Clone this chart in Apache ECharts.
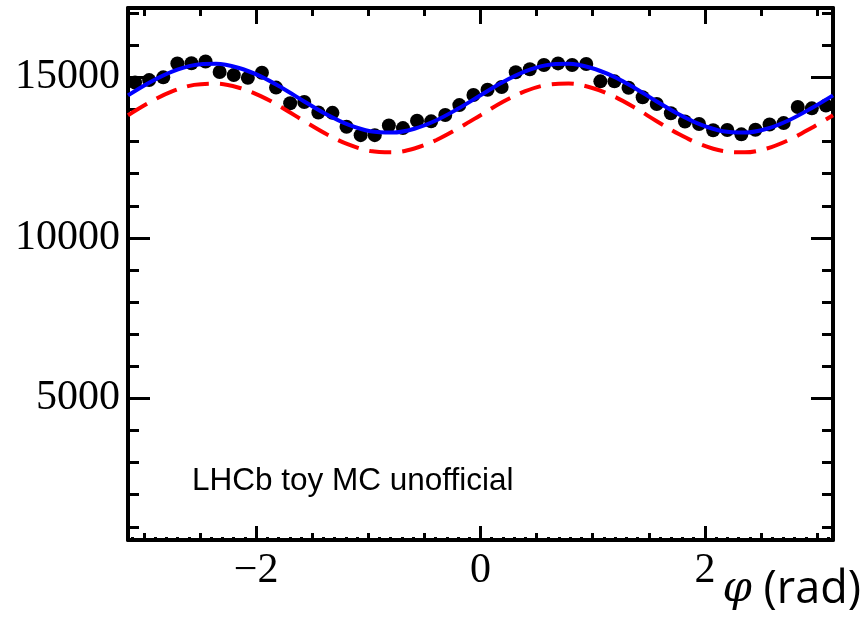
<!DOCTYPE html>
<html>
<head>
<meta charset="utf-8">
<script src="https://cdn.jsdelivr.net/npm/echarts@6/dist/echarts.min.js"></script>
<style>
    html, body { margin: 0; padding: 0; background: #fff; }
    #chart { width: 866px; height: 624px; }
</style>
</head>
<body>
<div id="chart"></div>
<script>
// data points, 50 bins over [-pi, pi]
let nBins = 50;
let counts = [
    14840, 14915, 15000, 15430, 15440, 15495, 15165, 15070, 14985, 15145,
    14680, 14195, 14230, 13905, 13895, 13460, 13200, 13200, 13500, 13420,
    13650, 13630, 13825, 14135, 14450, 14615, 14700, 15160, 15250, 15385,
    15435, 15385, 15415, 14875, 14875, 14675, 14380, 14170, 13880, 13625,
    13545, 13350, 13360, 13225, 13370, 13530, 13575, 14075, 14035, 14120
];

// fit curves, sampled every pi/16 from -pi to pi
let fitTotal = [
    14440, 14850, 15180, 15380, 15420, 15300, 15040, 14670, 14250, 13850,
    13525, 13320, 13280, 13400, 13665, 14030, 14440, 14850, 15180, 15380,
    15420, 15300, 15040, 14670, 14250, 13850, 13525, 13320, 13280, 13400,
    13665, 14030, 14440
];
let fitComp = [
    13820, 14230, 14560, 14765, 14805, 14685, 14425, 14055, 13635, 13235,
    12910, 12705, 12665, 12785, 13050, 13415, 13820, 14230, 14560, 14765,
    14805, 14685, 14425, 14055, 13635, 13235, 12910, 12705, 12665, 12785,
    13050, 13415, 13820
];

// axis ticks
let xMajor = [-2, 0, 2];
let xHalf = [-3, -2.5, -1.5, -1, -0.5, 0.5, 1, 1.5, 2.5, 3];
let xTenth = [];
for (let i = -31; i <= 31; i++) xTenth.push(i / 10);
let yMajor = [5000, 10000, 15000];
let yMinor = [1000, 2000, 3000, 4000, 6000, 7000, 8000, 9000, 11000, 12000, 13000, 14000, 16000, 17000];
let yMin = 590, yMax = 17160;

// ----------------------------------------------------
let pts = [];
let w = 2 * Math.PI / nBins;
for (let i = 0; i < nBins; i++) {
    pts.push([-Math.PI + (i + 0.5) * w, counts[i]]);
}
let curveA = [], curveB = [];
for (let k = 0; k < fitTotal.length; k++) {
    let phi = -Math.PI + k * Math.PI / 16;
    curveA.push([phi, fitTotal[k]]);
    curveB.push([phi, fitComp[k]]);
}

let serif = '"Liberation Serif", "DejaVu Serif", serif';

function xAx(pos, ticks, len, showLine, labels) {
    return {
        type: 'value', position: pos, min: -Math.PI, max: Math.PI,
        axisLine: { show: showLine, onZero: false, lineStyle: { color: '#000', width: 4 } },
        axisTick: { show: true, inside: true, length: len, customValues: ticks, lineStyle: { color: '#000', width: 3 } },
        axisLabel: labels ? {
            show: true, customValues: labels, margin: 10, color: '#000',
            fontFamily: serif, fontSize: 42,
            formatter: function (v) { return v < 0 ? '\u2212' + Math.abs(v) : String(v); }
        } : { show: false },
        splitLine: { show: false }
    };
}
function yAx(pos, ticks, len, showLine, labels) {
    return {
        type: 'value', position: pos, min: yMin, max: yMax,
        axisLine: { show: showLine, onZero: false, lineStyle: { color: '#000', width: 4 } },
        axisTick: { show: true, inside: true, length: len, customValues: ticks, lineStyle: { color: '#000', width: 3 } },
        axisLabel: labels ? {
            show: true, customValues: labels, margin: 8, color: '#000',
            fontFamily: serif, fontSize: 42,
            formatter: function (v) { return String(v); }
        } : { show: false },
        splitLine: { show: false }
    };
}

let chart = echarts.init(document.getElementById('chart'));
let option = {
    animation: false,
    backgroundColor: '#fff',
    grid: { left: 128, right: 33, top: 8, bottom: 84 },
    xAxis: [
        xAx('bottom', xMajor, 14, true, xMajor),
        xAx('bottom', xHalf, 7, false, null),
        xAx('bottom', xTenth, 3, false, null),
        xAx('top', xMajor, 16, true, null),
        xAx('top', xHalf, 8, false, null)
    ],
    yAxis: [
        yAx('left', yMajor, 22, true, yMajor),
        yAx('left', yMinor, 11, false, null),
        yAx('right', yMajor, 22, true, null),
        yAx('right', yMinor, 11, false, null)
    ],
    series: [
        {
            type: 'scatter', data: pts, symbol: 'circle', symbolSize: 14,
            itemStyle: { color: '#000', opacity: 1 }, z: 2
        },
        {
            type: 'line', data: curveB, smooth: 0.35, symbol: 'none', z: 3,
            lineStyle: { color: '#ff0000', width: 4, type: [22, 11] }
        },
        {
            type: 'line', data: curveA, smooth: 0.35, symbol: 'none', z: 4,
            lineStyle: { color: '#0000ff', width: 4 }
        }
    ],
    graphic: [
        {
            type: 'text', left: 192, top: 465,
            style: { text: 'LHCb toy MC unofficial', font: '31.5px "Liberation Sans", Arial, sans-serif', fill: '#000' }
        },
        {
            type: 'text', right: 5, top: 568,
            style: {
                text: '{p|\u03c6}{r| (rad)}',
                rich: {
                    p: { fontFamily: '"DejaVu Serif", serif', fontStyle: 'italic', fontSize: 42, lineHeight: 52, fill: '#000' },
                    r: { fontFamily: '"Open Sans", sans-serif', fontSize: 45, lineHeight: 52, fill: '#000' }
                }
            }
        }
    ]
};
chart.setOption(option);
</script>
</body>
</html>
